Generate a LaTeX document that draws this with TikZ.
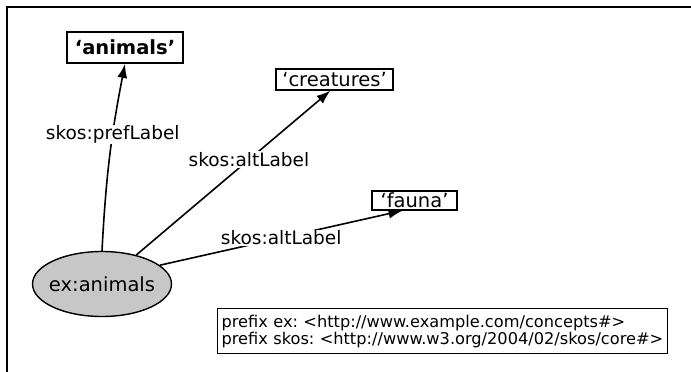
\documentclass[tikz,border=0pt]{standalone}
\usepackage{fontspec}
\setmainfont{DejaVu Sans}
\usetikzlibrary{arrows.meta,shapes.geometric}
\begin{document}
\frenchspacing
\begin{tikzpicture}[x=1pt,y=-1pt,
  lit/.style={draw,line width=1.2pt,inner sep=0pt,font=\fontsize{19.5}{21}\selectfont},
  rel/.style={-{Latex[length=14pt,width=10pt]},line width=1.6pt},
  lab/.style={fill=white,inner sep=1pt,font=\fontsize{18.5}{20}\selectfont}]
  \useasboundingbox (0,0) rectangle (691,372);
  \draw[line width=1.6pt] (7,372) -- (7,7) -- (691,7);

  \node[ellipse,draw,line width=1.4pt,fill=black!22,minimum width=139pt,minimum height=65pt,
    inner xsep=-15pt,inner ysep=0pt,font=\fontsize{19.5}{22}\selectfont] (EX) at (102,284) {ex:animals};
  \node[lit,line width=1.8pt,minimum width=116pt,minimum height=31pt,
    font=\bfseries\fontsize{19.5}{21}\selectfont] (A) at (125,47.5) {‘animals’};
  \node[lit,minimum width=117pt,minimum height=21pt] (C) at (334.5,79.5) {‘creatures’};
  \node[lit,minimum width=85pt,minimum height=19pt] (F) at (414.5,200.5) {‘fauna’};
  \node[draw,line width=1.2pt,anchor=north west,text width=442pt,inner xsep=4pt,inner ysep=5pt,minimum height=45pt,
    align=left,font=\fontsize{16.2}{17}\selectfont] (P) at (217,308)
    {prefix ex: <http://www.example.com/concepts\#>\\prefix skos: <http://www.w3.org/2004/02/skos/core\#>};

  \draw[rel] (EX.north) to[bend left=4] node[lab,pos=0.63] {skos:prefLabel} (A.south);
  \draw[rel] (EX) -- node[lab,pos=0.58] {skos:altLabel} ([xshift=-4pt]C.south);
  \draw[rel] (EX.18) -- node[lab,pos=0.5] {skos:altLabel} ([xshift=-12pt]F.south);
\end{tikzpicture}
\end{document}
